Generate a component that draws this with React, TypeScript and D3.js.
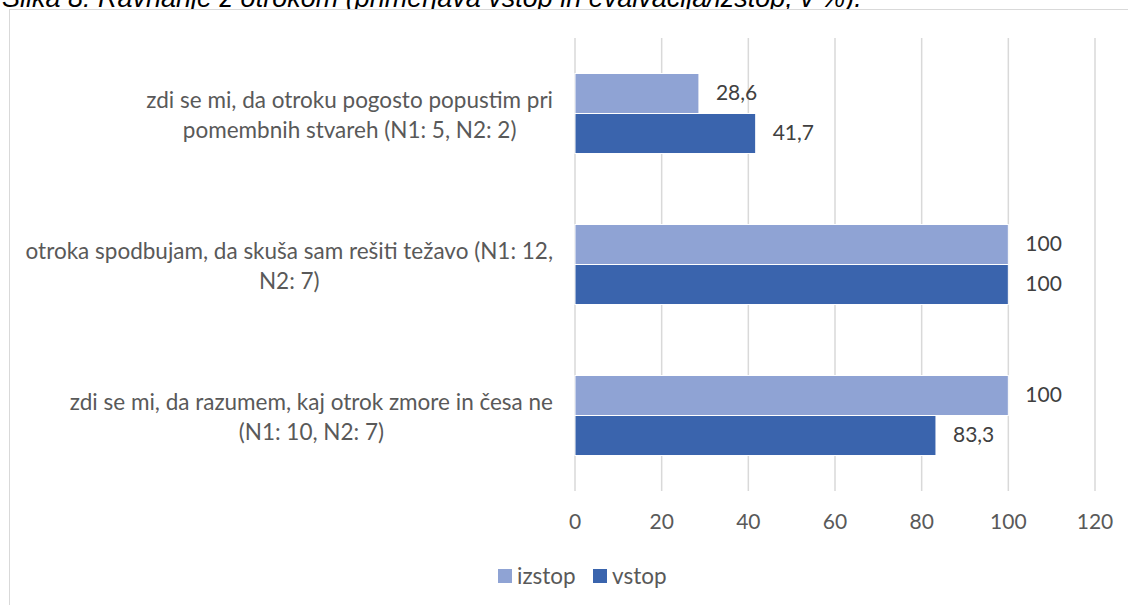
import React, { useEffect, useRef } from 'react';
import * as d3 from 'd3';

const title = 'Slika 8: Ravnanje z otrokom (primerjava vstop in evalvacija/izstop, v %).';
const categories = [
  ['zdi se mi, da otroku pogosto popustim pri', 'pomembnih stvareh (N1: 5, N2: 2)'],
  ['otroka spodbujam, da skuša sam rešiti težavo (N1: 12,', 'N2: 7)'],
  ['zdi se mi, da razumem, kaj otrok zmore in česa ne', '(N1: 10, N2: 7)'],
];
const seriesNames = ['izstop', 'vstop'];
const izstop = [28.6, 100, 100];
const vstop = [41.7, 100, 83.3];
const xTicks = [0, 20, 40, 60, 80, 100, 120];

const colors = ['#8FA3D4', '#3A64AD'];
const font = 'Lato, "Open Sans", sans-serif';

const App = () => {
  const svgRef = useRef<SVGSVGElement>(null);

  useEffect(() => {
    document.body.style.margin = '0';
    const width = 1128;
    const height = 605;
    const svg = d3.select(svgRef.current);
    svg.selectAll('*').remove();
    svg.attr('width', width).attr('height', height);

    // title (cut off at the top, as in the source)
    svg.append('text')
      .attr('x', 2)
      .attr('y', 7)
      .attr('font-family', 'Liberation Sans, Arial, sans-serif')
      .attr('font-style', 'italic')
      .attr('font-size', 27)
      .attr('fill', '#000')
      .text(title);

    // chart frame
    svg.append('rect')
      .attr('x', 9.5).attr('y', 9.5)
      .attr('width', 1130).attr('height', 620)
      .attr('fill', '#fff')
      .attr('stroke', '#d9d9d9');

    const x = d3.scaleLinear().domain([0, 120]).range([575, 1095]);
    const y = d3.scaleBand<number>()
      .domain(d3.range(categories.length))
      .range([38, 491])
      .paddingInner(0.47)
      .paddingOuter(0.235);
    const ySub = d3.scaleBand<number>()
      .domain([0, 1])
      .range([0, y.bandwidth()]);

    // grid
    svg.append('g')
      .selectAll('line')
      .data(xTicks)
      .join('line')
      .attr('x1', d => x(d)).attr('x2', d => x(d))
      .attr('y1', 38).attr('y2', 491)
      .attr('stroke', '#d9d9d9')
      .attr('stroke-width', 1.5);

    // tick labels
    svg.append('g')
      .selectAll('text')
      .data(xTicks)
      .join('text')
      .attr('x', d => x(d))
      .attr('y', 522)
      .attr('dy', '0.35em')
      .attr('text-anchor', 'middle')
      .attr('font-family', font)
      .attr('font-size', 21)
      .attr('fill', '#595959')
      .text(d => d);

    const series = [izstop, vstop];
    series.forEach((vals, si) => {
      const g = svg.append('g');
      g.selectAll('rect')
        .data(vals)
        .join('rect')
        .attr('x', x(0))
        .attr('y', (d, i) => (y(i) as number) + (ySub(si) as number))
        .attr('width', d => x(d) - x(0))
        .attr('height', ySub.bandwidth())
        .attr('fill', colors[si])
        .attr('stroke', '#fff')
        .attr('stroke-width', 1);
      g.selectAll('text')
        .data(vals)
        .join('text')
        .attr('x', d => x(d) + 17)
        .attr('y', (d, i) => (y(i) as number) + (ySub(si) as number) + ySub.bandwidth() / 2 - 1)
        .attr('dy', '0.35em')
        .attr('font-family', font)
        .attr('font-size', 21)
        .attr('fill', '#404040')
        .text(d => String(d).replace('.', ','));
    });

    // category labels: block right-aligned to 553, lines centred in the block
    categories.forEach((lines, i) => {
      const g = svg.append('g');
      const cy = (y(i) as number) + y.bandwidth() / 2 + 1.5;
      const texts = g.selectAll('text')
        .data(lines)
        .join('text')
        .attr('y', (d, j) => cy + (j - (lines.length - 1) / 2) * 30)
        .attr('dy', '0.35em')
        .attr('text-anchor', 'middle')
        .attr('font-family', font)
        .attr('font-size', 22.5)
        .attr('fill', '#595959')
        .text(d => d);
      let maxW = 0;
      texts.each(function () {
        maxW = Math.max(maxW, (this as SVGTextElement).getComputedTextLength());
      });
      texts.attr('x', 553 - maxW / 2);
    });

    // legend
    const legend = svg.append('g').attr('transform', 'translate(498,576)');
    const legendOffsets = [0, 95];
    seriesNames.forEach((name, i) => {
      legend.append('rect')
        .attr('x', legendOffsets[i]).attr('y', -7)
        .attr('width', 14).attr('height', 14)
        .attr('fill', colors[i]);
      legend.append('text')
        .attr('x', legendOffsets[i] + 19)
        .attr('y', 0)
        .attr('dy', '0.35em')
        .attr('font-family', font)
        .attr('font-size', 22.5)
        .attr('fill', '#595959')
        .text(name);
    });
  }, []);

  return <svg ref={svgRef} style={{ display: 'block' }} />;
};

export default App;
